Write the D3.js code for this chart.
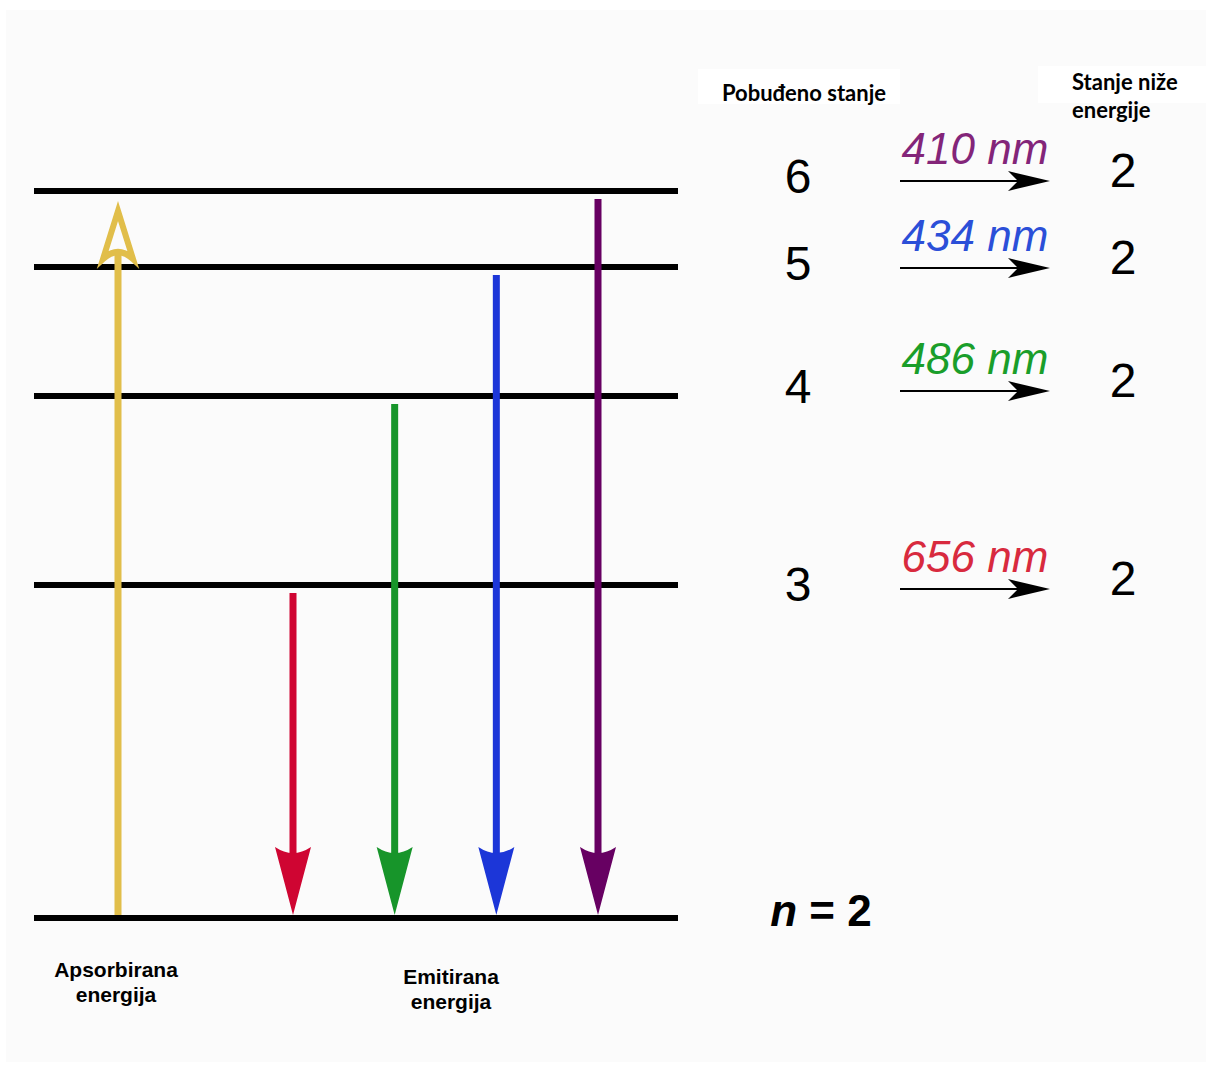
<!DOCTYPE html>
<html>
<head>
<meta charset="utf-8">
<script src="https://cdn.jsdelivr.net/npm/d3@7"></script>
<style>
  body { margin: 0; background: #ffffff; }
  svg { display: block; }
</style>
</head>
<body>
<svg width="1212" height="1067"></svg>
<script>
// podaci
var razine = [2, 3, 4, 5, 6];              // energetske razine
var prijelazi = [3, 4, 5, 6];              // n -> 2
var valneDuljine = ["656 nm", "486 nm", "434 nm", "410 nm"];
var boje = ["#cf0532", "#17952a", "#1c36d8", "#670062"];
var bojeTeksta = ["#d82a3e", "#1a9e2a", "#2b4fd8", "#832579"];
var nizaRazina = 2;
var apsorpcija = [2, 6];

var svg = d3.select("svg"),
  width = +svg.attr("width"),
  height = +svg.attr("height");

// pozadina
svg.append("rect").attr("x", 6).attr("y", 10)
  .attr("width", 1200).attr("height", 1052).attr("fill", "#fbfbfb");
svg.append("rect").attr("x", 698).attr("y", 69).attr("width", 202).attr("height", 35).attr("fill", "#fff");
svg.append("rect").attr("x", 1038).attr("y", 66).attr("width", 174).attr("height", 37).attr("fill", "#fff");

// y skala za razine (nije fizikalna, kao na slici)
var y = d3.scaleLinear().domain([2, 3, 4, 5, 6]).range([918, 585, 396, 267, 191]);
var xEm = d3.scalePoint().domain(prijelazi).range([293, 598]);
var xAbs = 118;

var crte = svg.append("g").attr("class", "razine");
crte.selectAll("line").data(razine).enter().append("line")
  .attr("x1", 34).attr("x2", 678)
  .attr("y1", function(d){ return y(d); })
  .attr("y2", function(d){ return y(d); })
  .attr("stroke", "#000").attr("stroke-width", 6);

// apsorbirana - zuta strelica prema gore
var zuta = "#e1be4a";
var abs = svg.append("g");
var vrh = y(apsorpcija[1]) + 20;
abs.append("line")
  .attr("x1", xAbs).attr("x2", xAbs)
  .attr("y1", y(apsorpcija[0]) - 3).attr("y2", vrh + 40)
  .attr("stroke", zuta).attr("stroke-width", 7);
abs.append("path")
  .attr("d", "M" + xAbs + "," + vrh + "L" + (xAbs + 15) + "," + (vrh + 48) +
    "Q" + xAbs + "," + (vrh + 34) + " " + (xAbs - 15) + "," + (vrh + 48) + "Z")
  .attr("fill", "#fbfbfb").attr("stroke", zuta).attr("stroke-width", 6)
  .attr("stroke-linejoin", "miter");

// emitirana - strelice prema dolje
var em = svg.append("g");
prijelazi.forEach(function(n, i){
  var x = xEm(n), y0 = y(n) + 8, y1 = y(nizaRazina) - 3;
  em.append("line")
    .attr("x1", x).attr("x2", x).attr("y1", y0).attr("y2", y1 - 50)
    .attr("stroke", boje[i]).attr("stroke-width", 7);
  em.append("path")
    .attr("d", "M" + x + "," + y1 + "L" + (x - 18) + "," + (y1 - 68) +
      "Q" + x + "," + (y1 - 56) + " " + (x + 18) + "," + (y1 - 68) + "Z")
    .attr("fill", boje[i]);
});

// desna strana
var desno = svg.append("g").attr("font-family", "'Liberation Sans', Arial, sans-serif");

desno.append("text").attr("x", 804).attr("y", 101).attr("text-anchor", "middle")
  .attr("font-family", "Lato, 'Open Sans', sans-serif").attr("font-weight", "bold")
  .attr("font-size", 22).text("Pobuđeno stanje");
desno.append("text").attr("x", 1072).attr("y", 90)
  .attr("font-family", "Lato, 'Open Sans', sans-serif").attr("font-weight", "bold")
  .attr("font-size", 22).text("Stanje niže");
desno.append("text").attr("x", 1072).attr("y", 118)
  .attr("font-family", "Lato, 'Open Sans', sans-serif").attr("font-weight", "bold")
  .attr("font-size", 22).text("energije");

// pomaci redaka na desnoj strani prema razini
var redak = d3.scaleLinear().domain([3, 4, 5, 6]).range([589, 391, 268, 181]);

prijelazi.forEach(function(n, i){
  var r = redak(n);
  desno.append("text").attr("x", 798).attr("y", r + 12).attr("text-anchor", "middle")
    .attr("font-size", 48).attr("fill", "#000").text(n);
  desno.append("text").attr("x", 1123).attr("y", r + 6).attr("text-anchor", "middle")
    .attr("font-size", 48).attr("fill", "#000").text(nizaRazina);
  desno.append("text").attr("x", 975).attr("y", r - 17).attr("text-anchor", "middle")
    .attr("font-size", 44).attr("font-style", "italic")
    .attr("fill", bojeTeksta[i]).text(valneDuljine[i]);
  desno.append("line").attr("x1", 900).attr("x2", 1020).attr("y1", r).attr("y2", r)
    .attr("stroke", "#000").attr("stroke-width", 2);
  desno.append("path")
    .attr("d", "M1050," + r + "L1008," + (r - 10) + "L1018," + r + "L1008," + (r + 10) + "Z")
    .attr("fill", "#000");
});

// n = 2
var n2 = desno.append("text").attr("x", 821).attr("y", 926).attr("text-anchor", "middle")
  .attr("font-size", 44).attr("font-weight", "bold");
n2.append("tspan").attr("font-style", "italic").text("n");
n2.append("tspan").text(" = " + nizaRazina);

// oznake ispod
var dolje = svg.append("g").attr("font-family", "'Liberation Sans', Arial, sans-serif")
  .attr("font-weight", "bold").attr("font-size", 21).attr("text-anchor", "middle");
dolje.append("text").attr("x", 116).attr("y", 977).text("Apsorbirana");
dolje.append("text").attr("x", 116).attr("y", 1002).text("energija");
dolje.append("text").attr("x", 451).attr("y", 984).text("Emitirana");
dolje.append("text").attr("x", 451).attr("y", 1009).text("energija");
</script>
</body>
</html>
